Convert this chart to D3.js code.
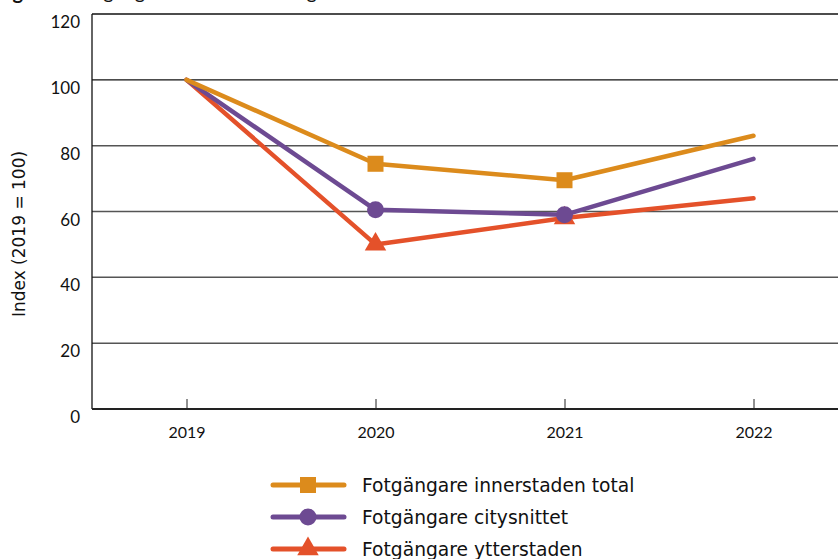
<!DOCTYPE html>
<html>
<head>
<meta charset="utf-8">
<script src="https://cdn.jsdelivr.net/npm/d3@7"></script>
<style>
  html, body { margin: 0; padding: 0; background: #fff; }
  svg { display: block; font-family: "Lato", "Open Sans", sans-serif; }
</style>
</head>
<body>
<svg id="chart" width="838" height="559"></svg>
<script>
// Pedestrian index per area, 2019 = 100
const years = ["2019", "2020", "2021", "2022"];
const innerstaden = [100, 74.5, 69.5, 83];
const citysnittet = [100, 60.5, 59, 76];
const ytterstaden = [100, 50, 58, 64];
const yTicks = [0, 20, 40, 60, 80, 100, 120];

const series = [
  { name: "Fotgängare innerstaden total", values: innerstaden, color: "#DC8B1C", marker: "square" },
  { name: "Fotgängare citysnittet", values: citysnittet, color: "#6D4A92", marker: "circle" },
  { name: "Fotgängare ytterstaden", values: ytterstaden, color: "#E4512A", marker: "triangle" }
];

const svg = d3.select("#chart");
const plotLeft = 92, plotTop = 14, plotBottom = 409, band = 189;
const wideFont = "'DejaVu Sans', Verdana, sans-serif";

const x = d3.scalePoint().domain(years).range([plotLeft + band / 2, plotLeft + band / 2 + band * 3]);
const y = d3.scaleLinear().domain([0, 120]).range([plotBottom, plotTop]);

// Title (sits above the top edge, only its descenders show)
const title = svg.append("text")
  .attr("y", -1)
  .attr("font-size", 20).attr("fill", "#111");
title.append("tspan").attr("x", -4).attr("font-weight", "bold").text("Fig 5");
title.append("tspan").attr("x", 50).text("Index gångtrafikens förändring");

// Horizontal gridlines
svg.append("g").selectAll("line").data(yTicks.filter(d => d > 0)).join("line")
  .attr("x1", plotLeft).attr("x2", 838)
  .attr("y1", d => y(d)).attr("y2", d => y(d))
  .attr("stroke", d => d >= 100 ? "#111" : "#555")
  .attr("stroke-width", d => d >= 100 ? 1.3 : 1.5);

// Y axis labels
svg.append("g").selectAll("text").data(yTicks).join("text")
  .attr("x", 80).attr("y", d => y(d) + 14)
  .attr("text-anchor", "end")
  .attr("font-size", 17).attr("fill", "#111")
  .text(d => d);

// Left axis line
svg.append("line")
  .attr("x1", plotLeft).attr("x2", plotLeft).attr("y1", plotTop).attr("y2", plotBottom)
  .attr("stroke", "#111").attr("stroke-width", 1.3);

// Bottom axis with inward ticks
const xAxis = d3.axisBottom(x).tickSize(-10).tickPadding(18);
const gx = svg.append("g").attr("transform", `translate(0,${plotBottom})`).call(xAxis);
gx.select(".domain").remove();
gx.selectAll(".tick line").attr("stroke", "#222").attr("stroke-width", 1);
gx.selectAll(".tick text").attr("font-size", 16).attr("fill", "#111").attr("font-family", "Lato, sans-serif");
svg.append("line")
  .attr("x1", plotLeft).attr("x2", 838).attr("y1", plotBottom).attr("y2", plotBottom)
  .attr("stroke", "#222").attr("stroke-width", 2);

// Y axis title
svg.append("text")
  .attr("transform", `translate(25,234) rotate(-90)`)
  .attr("text-anchor", "middle")
  .attr("font-family", wideFont)
  .attr("font-size", 17).attr("fill", "#111")
  .text("Index (2019 = 100)");

const line = d3.line().x((d, i) => x(years[i])).y(d => y(d));

function drawMarker(g, type, cx, cy, color) {
  if (type === "square") {
    g.append("rect").attr("x", cx - 8).attr("y", cy - 8).attr("width", 16).attr("height", 16).attr("fill", color);
  } else if (type === "circle") {
    g.append("circle").attr("cx", cx).attr("cy", cy).attr("r", 8.5).attr("fill", color);
  } else {
    g.append("path")
      .attr("d", d3.symbol(d3.symbolTriangle, 200)())
      .attr("transform", `translate(${cx},${cy})`)
      .attr("fill", color);
  }
}

// Lines (drawn back to front so orange sits on top)
const plot = svg.append("g");
[...series].reverse().forEach(s => {
  plot.append("path")
    .attr("d", line(s.values))
    .attr("fill", "none")
    .attr("stroke", s.color)
    .attr("stroke-width", 4.5)
    .attr("stroke-linecap", "round")
    .attr("stroke-linejoin", "round");
});
[...series].reverse().forEach(s => {
  s.values.forEach((v, i) => {
    if (i === 1 || i === 2) drawMarker(plot, s.marker, x(years[i]), y(v), s.color);
  });
});

// Legend
const legend = svg.append("g");
series.forEach((s, i) => {
  const ly = 485 + i * 32;
  legend.append("line")
    .attr("x1", 273).attr("x2", 344).attr("y1", ly).attr("y2", ly)
    .attr("stroke", s.color).attr("stroke-width", 5).attr("stroke-linecap", "round");
  drawMarker(legend, s.marker, 308, ly, s.color);
  legend.append("text")
    .attr("x", 362).attr("y", ly + 7)
    .attr("font-family", wideFont)
    .attr("font-size", 18.7).attr("fill", "#111")
    .text(s.name);
});
</script>
</body>
</html>
